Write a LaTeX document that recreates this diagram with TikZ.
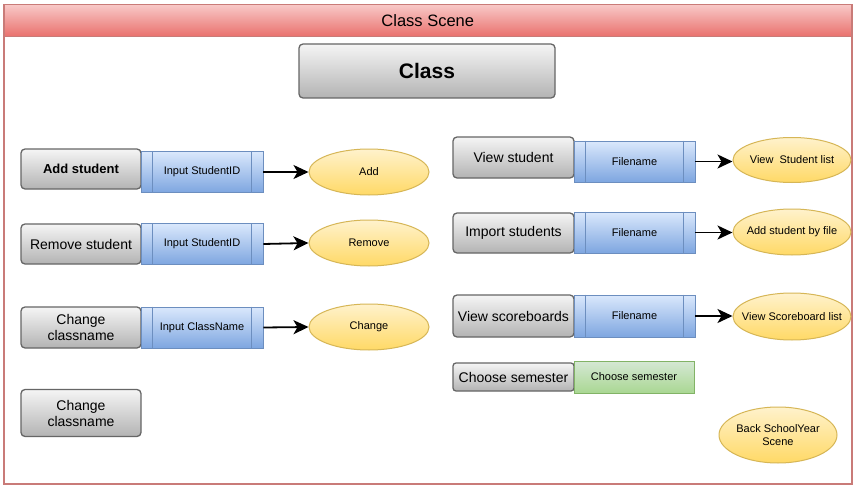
\documentclass[tikz,border=0pt]{standalone}
\usepackage{fontspec}
\setmainfont{Liberation Sans}
\usetikzlibrary{shapes.geometric,arrows.meta}
\definecolor{frameR}{HTML}{C97B78}
\definecolor{headTop}{HTML}{F8C8C7}
\definecolor{headBot}{HTML}{E9706C}
\definecolor{grayTop}{HTML}{F5F5F5}
\definecolor{grayBot}{HTML}{B3B3B3}
\definecolor{grayLine}{HTML}{666666}
\definecolor{blueTop}{HTML}{DAE8FC}
\definecolor{blueBot}{HTML}{7EA6E0}
\definecolor{blueLine}{HTML}{6C8EBF}
\definecolor{yelTop}{HTML}{FFF2CC}
\definecolor{yelBot}{HTML}{FFD966}
\definecolor{yelLine}{HTML}{D6B656}
\definecolor{grnTop}{HTML}{D5E8D4}
\definecolor{grnBot}{HTML}{97D077}
\definecolor{grnLine}{HTML}{82B366}
\tikzset{
  btn/.style={draw=grayLine, line width=1.3pt, rounded corners=4pt, top color=grayTop, bottom color=grayBot,
    minimum width=120pt, minimum height=40pt, inner sep=1pt, align=center, font=\fontsize{14}{16}\selectfont},
  procbox/.style={draw=blueLine, line width=0.8pt, top color=blueTop, bottom color=blueBot,
    minimum width=122pt, minimum height=41pt, inner sep=1pt, align=center, font=\fontsize{11}{13}\selectfont},
  ell/.style={ellipse, draw=yelLine, line width=1pt, top color=yelTop, bottom color=yelBot,
    minimum width=120pt, minimum height=46pt, inner sep=0pt},
  elltext/.style={align=center, inner sep=0pt, font=\fontsize{11}{13}\selectfont},
  grnbox/.style={draw=grnLine, line width=0.8pt, top color=grnTop, bottom color=grnBot!70!grnTop,
    minimum width=120pt, minimum height=32pt, inner sep=1pt, align=center, font=\fontsize{11}{13}\selectfont},
  arr/.style={-{Stealth[length=15pt,width=14pt,inset=4pt]}, line width=1.8pt, black},
}
\newcommand{\procLines}[1]{%
  \draw[blueLine, line width=0.8pt] ([xshift=12pt]#1.north west) -- ([xshift=12pt]#1.south west);
  \draw[blueLine, line width=0.8pt] ([xshift=-12pt]#1.north east) -- ([xshift=-12pt]#1.south east);}
\begin{document}
\begin{tikzpicture}[x=1pt,y=-1pt]
\useasboundingbox (0,0) rectangle (855,487);
% container
\node[draw=frameR, line width=1.5pt, fill=white, minimum width=848pt, minimum height=479pt, inner sep=0pt, anchor=north west] (cont) at (3,4) {};
\node[draw=frameR, line width=1.5pt, top color=headTop, bottom color=headBot, minimum width=848pt, minimum height=32pt, inner sep=0pt, anchor=north west,
  font=\fontsize{16.5}{18}\selectfont] (head) at (3,4) {Class Scene};
% title box
\node[btn, minimum width=256pt, minimum height=54pt, font=\fontsize{21}{24}\selectfont\bfseries] (cls) at (427,71) {Class};
% left column
\node[btn, font=\fontsize{13}{15}\selectfont\bfseries] (b1) at (81,169) {Add student};
\node[procbox] (p1) at (202,172) {Input StudentID};
\node[ell] (e1) at (369,172) {};
\node[elltext] (t1) at (e1) {Add};
\node[btn] (b2) at (81,244) {Remove student};
\node[procbox] (p2) at (202,244) {Input StudentID};
\node[ell] (e2) at (369,243) {};
\node[elltext] (t2) at (e2) {Remove};
\node[btn, minimum height=41pt] (b3) at (81,327.5) {Change\\classname};
\node[procbox] (p3) at (202,327.5) {Input ClassName};
\node[ell] (e3) at (369,327) {};
\node[elltext] (t3) at (e3) {Change};
\node[btn, minimum height=47pt] (b4) at (81,413) {Change\\classname};
% right column
\node[btn, minimum width=121pt, minimum height=41pt] (b5) at (513.5,157.5) {View student};
\node[procbox, minimum width=121pt] (p5) at (634.5,161.5) {Filename};
\node[ell, minimum width=118pt, minimum height=45pt] (e5) at (792,160) {};
\node[elltext] (t5) at (e5) {View~~Student list};
\node[btn, minimum width=121pt] (b6) at (513.5,233) {Import students};
\node[procbox, minimum width=121pt] (p6) at (634.5,232.5) {Filename};
\node[ell, minimum width=118pt] (e6) at (792,232) {};
\node[elltext] (t6) at (e6) {Add student by file};
\node[btn, minimum width=121pt, minimum height=42pt] (b7) at (513.5,316) {View scoreboards};
\node[procbox, minimum width=121pt, minimum height=42pt] (p7) at (634.5,316) {Filename};
\node[ell, minimum width=118pt, minimum height=47pt] (e7) at (792,316.5) {};
\node[elltext] (t7) at (e7) {View Scoreboard list};
\node[btn, minimum width=121pt, minimum height=28pt, rounded corners=3pt] (b8) at (513.5,377) {Choose semester};
\node[grnbox] (g8) at (634,377) {Choose semester};
\node[ell, minimum width=118pt, minimum height=56pt] (e9) at (778,435) {};
\node[elltext] (t9) at (e9) {Back SchoolYear\\Scene};
% process inner lines
\procLines{p1}\procLines{p2}\procLines{p3}\procLines{p5}\procLines{p6}\procLines{p7}
% arrows
\draw[arr] (p1.east) -- (e1.west);
\draw[arr] (p2.east) -- (e2.west);
\draw[arr] (p3.east) -- (e3.west);
\draw[arr] (p5.east) -- (p5.east -| e5.west);
\draw[arr] (p6.east) -- (p6.east -| e6.west);
\draw[arr] (p7.east) -- (p7.east -| e7.west);
\end{tikzpicture}
\end{document}
